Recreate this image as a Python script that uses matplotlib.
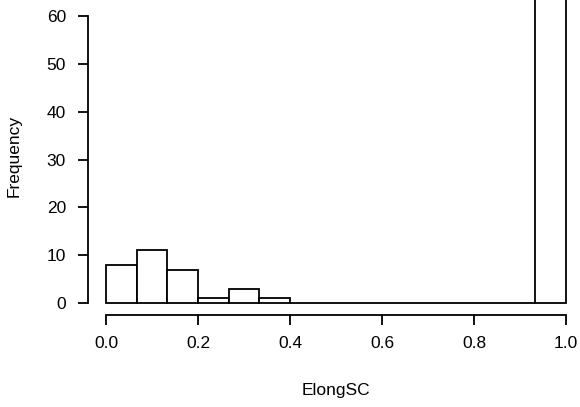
import matplotlib
matplotlib.use('Agg')
import matplotlib.pyplot as plt

# histogram of ElongSC, breaks every 1/15
breaks = [0, 1/15, 2/15, 3/15, 4/15, 5/15, 6/15, 7/15, 8/15, 9/15,
          10/15, 11/15, 12/15, 13/15, 14/15, 1.0]
counts = [8, 11, 7, 1, 3, 1, 0, 0, 0, 0, 0, 0, 0, 0, 110]
yticks = [0, 10, 20, 30, 40, 50, 60]
xticks = [0.0, 0.2, 0.4, 0.6, 0.8, 1.0]

plt.rcParams['font.family'] = ['Liberation Sans', 'DejaVu Sans']
FS = 12.5

W, H = 580, 407
fig = plt.figure(figsize=(W / 100, H / 100), dpi=100)

# plot region in pixels (R style, 4% padding on x)
left_px, right_px = 87.6, 584.4
bottom_px, top_px = 314.5, 0.0
ax = fig.add_axes([left_px / W, 1 - bottom_px / H,
                   (right_px - left_px) / W, (bottom_px - top_px) / H])
ax.set_xlim(-0.04, 1.04)
ppu = (303 - 16) / 60.0
ax.set_ylim(-2.4, 60 + 16 / ppu)

widths = [breaks[i + 1] - breaks[i] for i in range(len(counts))]
ax.bar(breaks[:-1], counts, width=widths, align='edge',
       facecolor='white', edgecolor='black', linewidth=1.3)

for s in ['top', 'right']:
    ax.spines[s].set_visible(False)
ax.spines['left'].set_bounds(0, 60)
ax.spines['bottom'].set_bounds(0, 1)
ax.spines['left'].set_linewidth(1.3)
ax.spines['bottom'].set_linewidth(1.3)

ax.set_xticks(xticks)
ax.set_xticklabels(['0.0', '0.2', '0.4', '0.6', '0.8', '1.0'])
ax.set_yticks(yticks)
ax.tick_params(length=7.5, width=1.3, labelsize=FS, pad=8)

# axis titles placed like R's mtext
fig.text(336 / W, 1 - 395 / H, 'ElongSC', fontsize=FS,
         ha='center', va='baseline')
fig.text(14 / W, 1 - 156 / H, 'Frequency', fontsize=FS,
         ha='center', va='center', rotation=90)

fig.savefig('out.png', dpi=100)
plt.close(fig)
